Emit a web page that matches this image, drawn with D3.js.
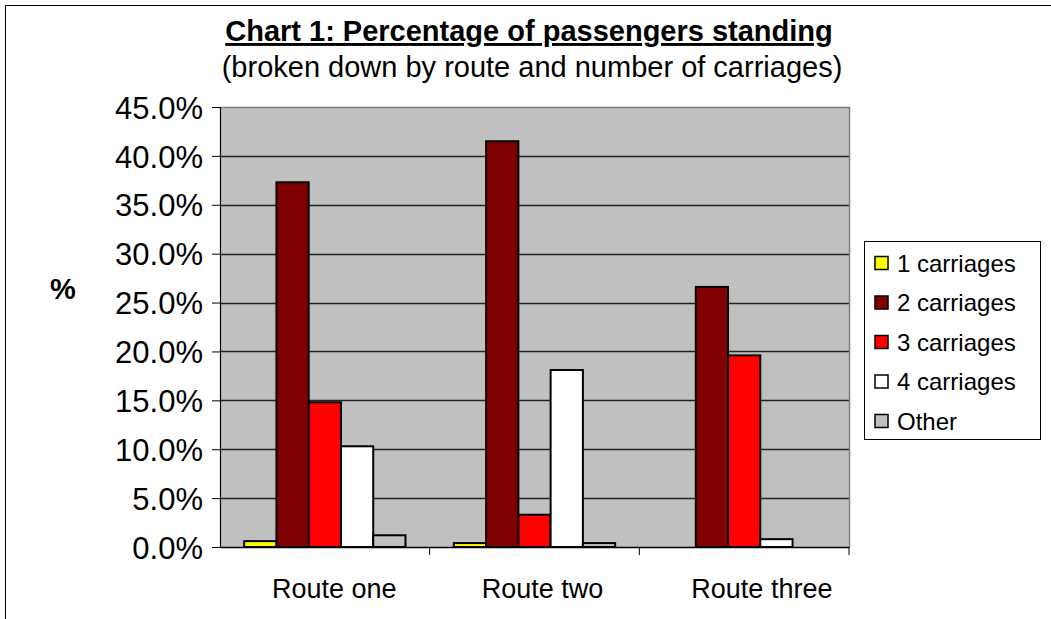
<!DOCTYPE html>
<html><head><meta charset="utf-8">
<script src="https://cdn.jsdelivr.net/npm/d3@7"></script>
<style>
html,body{margin:0;padding:0;background:#fff;}
text{font-family:"Liberation Sans",Arial,sans-serif;fill:#000;}
</style></head>
<body><svg id="chart" width="1051" height="619"></svg>
<script>
const categories = ["Route one", "Route two", "Route three"];
const seriesNames = ["1 carriages", "2 carriages", "3 carriages", "4 carriages", "Other"];
const seriesColors = ["#FFFF00", "#800000", "#FF0000", "#FFFFFF", "#C0C0C0"];
const oneCarriage = [0.006, 0.004, 0.0];
const twoCarriages = [0.373, 0.415, 0.266];
const threeCarriages = [0.148, 0.033, 0.196];
const fourCarriages = [0.103, 0.181, 0.008];
const otherCarriages = [0.012, 0.004, 0.0];
const yTicks = [0, 0.05, 0.10, 0.15, 0.20, 0.25, 0.30, 0.35, 0.40, 0.45];

const seriesValues = [oneCarriage, twoCarriages, threeCarriages, fourCarriages, otherCarriages];

const svg = d3.select("#chart");
const W = 1051, H = 619;
const plot = {left: 220, right: 849, top: 107, bottom: 547};

// outer frame
svg.append("path").attr("d", `M5.5,${H} V5.5 H${W}`).attr("fill","none").attr("stroke","#000").attr("stroke-width",1);

const x0 = d3.scaleBand().domain(categories).range([plot.left, plot.right]).paddingInner(0).paddingOuter(0);
const x1 = d3.scaleBand().domain(seriesNames).range([0, x0.bandwidth()]).paddingInner(0).paddingOuter(0.75);
const y = d3.scaleLinear().domain([0, 0.45]).range([plot.bottom, plot.top]);

// plot background
svg.append("rect").attr("x", plot.left).attr("y", plot.top)
  .attr("width", plot.right - plot.left).attr("height", plot.bottom - plot.top)
  .attr("fill", "#C0C0C0");

// gridlines
svg.append("g").selectAll("line").data(yTicks.filter(t => t > 0 && t < 0.45)).join("line")
  .attr("x1", plot.left).attr("x2", plot.right)
  .attr("y1", d => Math.round(y(d)) + 0.5).attr("y2", d => Math.round(y(d)) + 0.5)
  .attr("stroke", "#222").attr("stroke-width", 1.3);

// plot border top/right
svg.append("path").attr("d", `M${plot.left},${plot.top+0.5} H${plot.right+0.5} V${plot.bottom}`)
  .attr("fill","none").attr("stroke","#808080").attr("stroke-width",1.5);

// bars
const data = [];
categories.forEach((c, ci) => seriesNames.forEach((s, si) => {
  data.push({cat: c, series: s, value: seriesValues[si][ci], color: seriesColors[si]});
}));
svg.append("g").selectAll("rect").data(data.filter(d => d.value > 0)).join("rect")
  .attr("x", d => x0(d.cat) + x1(d.series))
  .attr("y", d => y(d.value))
  .attr("width", x1.bandwidth())
  .attr("height", d => y(0) - y(d.value))
  .attr("fill", d => d.color)
  .attr("stroke", "#000").attr("stroke-width", 2);

// y axis
const yAxis = d3.axisLeft(y).tickValues(yTicks).tickFormat(d3.format(".1%")).tickSize(8).tickPadding(9);
const gy = svg.append("g").attr("transform", `translate(${plot.left},0)`).call(yAxis);
gy.select(".domain").attr("stroke", "#000").attr("stroke-width", 1.2);
gy.selectAll(".tick line").attr("stroke", "#000");
gy.selectAll(".tick text").attr("font-size", "31px").attr("font-family", "Liberation Sans, Arial, sans-serif").attr("dy", "0.36em");

// x axis
const xAxis = d3.axisBottom(x0).tickSize(0).tickFormat("");
const gx = svg.append("g").attr("transform", `translate(0,${plot.bottom})`).call(xAxis);
gx.select(".domain").attr("stroke", "#000").attr("stroke-width", 1.5);
gx.selectAll(".tick").remove();
// category separators
const bounds = categories.map(c => x0(c) + x0.bandwidth());
svg.append("g").selectAll("line").data(bounds).join("line")
  .attr("x1", d => d).attr("x2", d => d).attr("y1", plot.bottom).attr("y2", plot.bottom + 8)
  .attr("stroke", "#000");
// category labels
svg.append("g").selectAll("text").data(categories).join("text")
  .attr("x", d => x0(d) + 52)
  .attr("y", 598)
  .attr("text-anchor", "start")
  .attr("font-size", "27px")
  .text(d => d);

// titles
svg.append("text").attr("x", 529).attr("y", 41).attr("text-anchor","middle")
  .attr("font-size","29px").attr("font-weight","bold").attr("text-decoration","underline")
  .text("Chart 1: Percentage of passengers standing");
svg.append("text").attr("x", 532).attr("y", 77).attr("text-anchor","middle")
  .attr("font-size","29px")
  .text("(broken down by route and number of carriages)");
svg.append("text").attr("x", 63).attr("y", 299).attr("text-anchor","middle")
  .attr("font-size","29px").attr("font-weight","bold").text("%");

// legend
const legend = svg.append("g");
legend.append("rect").attr("x", 864.5).attr("y", 241.5).attr("width", 176).attr("height", 198)
  .attr("fill", "#fff").attr("stroke", "#000").attr("stroke-width", 1);
const li = legend.selectAll("g.item").data(seriesNames).join("g").attr("class","item")
  .attr("transform", (d, i) => `translate(0,${263 + i*39.5})`);
li.append("rect").attr("x", 875).attr("y", -6.5).attr("width", 13).attr("height", 13)
  .attr("fill", (d, i) => seriesColors[i]).attr("stroke", "#000").attr("stroke-width", 1.5);
li.append("text").attr("x", 897).attr("y", 0).attr("dy","0.36em").attr("font-size","24px").text(d => d);
</script></body></html>
